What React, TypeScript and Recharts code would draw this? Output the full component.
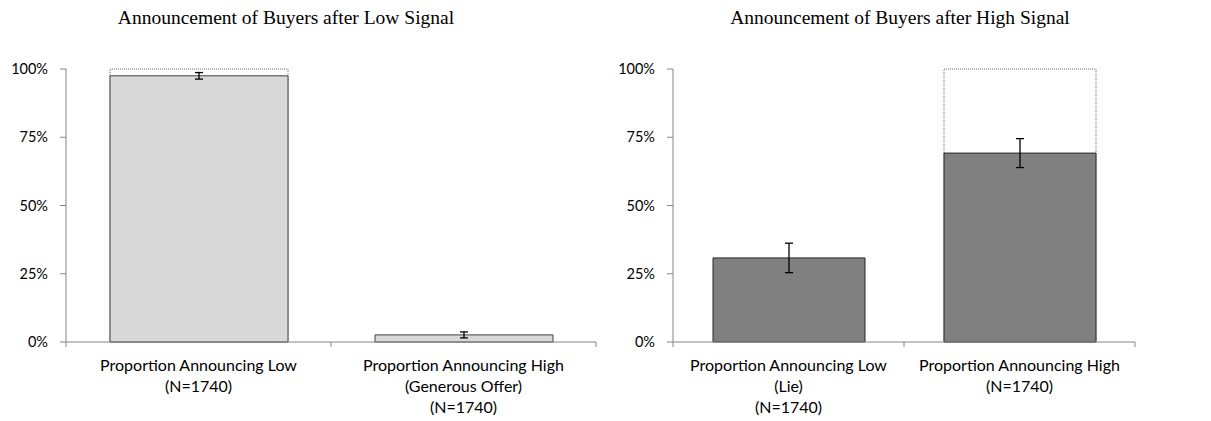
import { BarChart, Bar, XAxis, YAxis, ErrorBar } from "recharts";

const leftTitle = "Announcement of Buyers after Low Signal";
const rightTitle = "Announcement of Buyers after High Signal";

const leftCategories = [
  ["Proportion Announcing Low", "(N=1740)"],
  ["Proportion Announcing High", "(Generous Offer)", "(N=1740)"],
];
const leftValues = [97.5, 2.6];
const leftErrors = [1.2, 1.1];
const leftMax = [100, 0];

const rightCategories = [
  ["Proportion Announcing Low", "(Lie)", "(N=1740)"],
  ["Proportion Announcing High", "(N=1740)"],
];
const rightValues = [30.8, 69.2];
const rightErrors = [5.4, 5.3];
const rightMax = [0, 100];

const yTicks = [0, 25, 50, 75, 100];

const AXIS = "#868686";
const LABEL_FONT = "Lato, 'Liberation Sans', sans-serif";

function buildData(cats: string[][], vals: number[], errs: number[], max: number[]) {
  return cats.map((lines, i) => ({
    name: lines.join("\n"),
    value: vals[i],
    err: errs[i],
    max: max[i],
  }));
}

// category labels on several lines, with Excel-style tick marks between categories
function CategoryTick(props: any) {
  const { x, y, payload, index } = props;
  const lines = String(payload.value).split("\n");
  const half = payload.offset ?? 0;
  return (
    <g>
      {index === 0 && <line x1={x - half} y1={y} x2={x - half} y2={y + 5} stroke={AXIS} />}
      <line x1={x + half} y1={y} x2={x + half} y2={y + 5} stroke={AXIS} />
      <text x={x} y={y + 29} textAnchor="middle" fontSize={16} fontFamily={LABEL_FONT} fill="#000">
        {lines.map((l, i) => (
          <tspan key={i} x={x} dy={i === 0 ? 0 : 21}>{l}</tspan>
        ))}
      </text>
    </g>
  );
}

interface PanelProps {
  data: ReturnType<typeof buildData>;
  width: number;
  right: number;
  barSize: number;
  fill: string;
  stroke: string;
}

function Panel({ data, width, right, barSize, fill, stroke }: PanelProps) {
  return (
    <BarChart width={width} height={421} data={data} margin={{ top: 69, right, bottom: 0, left: 0 }}>
      <XAxis
        dataKey="name"
        height={79}
        interval={0}
        stroke={AXIS}
        tickLine={false}
        tickSize={0}
        tickMargin={0}
        tick={<CategoryTick />}
      />
      <XAxis xAxisId="outline" dataKey="name" hide />
      <YAxis
        width={66}
        domain={[0, 100]}
        ticks={yTicks}
        stroke={AXIS}
        tickSize={6}
        tickMargin={12}
        tickFormatter={(v) => `${v}%`}
        tick={{ fontSize: 14.5, fontFamily: LABEL_FONT, fill: "#000" }}
      />
      <Bar
        xAxisId="outline"
        dataKey="max"
        barSize={barSize}
        fill="#fff"
        stroke="#707070"
        strokeDasharray="1 1"
        isAnimationActive={false}
      />
      <Bar dataKey="value" barSize={barSize} fill={fill} stroke={stroke} strokeWidth={1} isAnimationActive={false}>
        <ErrorBar dataKey="err" direction="y" width={4} stroke="#000" strokeWidth={1.3} />
      </Bar>
    </BarChart>
  );
}

const titleStyle = {
  position: "absolute" as const,
  top: 7,
  fontFamily: "'Liberation Serif', 'DejaVu Serif', serif",
  fontSize: 19.5,
  color: "#000",
  transform: "translateX(-50%)",
  whiteSpace: "nowrap" as const,
};

export default function App() {
  const left = buildData(leftCategories, leftValues, leftErrors, leftMax);
  const rightD = buildData(rightCategories, rightValues, rightErrors, rightMax);
  return (
    <div style={{ position: "absolute", left: 0, top: 0, width: 1211, height: 421, background: "#fff" }}>
      <div style={{ ...titleStyle, left: 286 }}>{leftTitle}</div>
      <div style={{ ...titleStyle, left: 900 }}>{rightTitle}</div>
      <div style={{ position: "absolute", left: 0, top: 0 }}>
        <Panel data={left} width={610} right={14} barSize={178} fill="#d9d9d9" stroke="#404040" />
      </div>
      <div style={{ position: "absolute", left: 607, top: 0 }}>
        <Panel data={rightD} width={604} right={76} barSize={152} fill="#808080" stroke="#262626" />
      </div>
    </div>
  );
}
